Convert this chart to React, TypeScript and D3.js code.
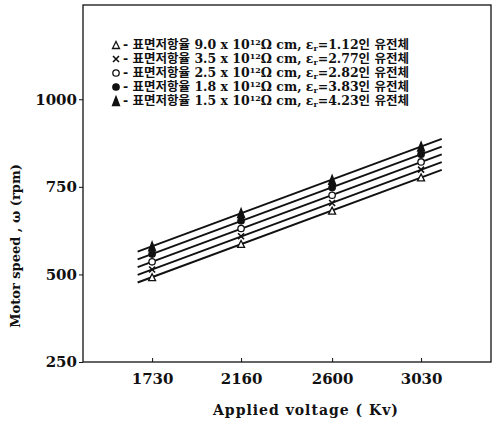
import React, { useEffect, useRef } from "react";
import * as d3 from "d3";

// applied voltage (Kv) at which the motor speed was measured
const voltages = [1730, 2160, 2600, 3030];
const yTicks = [250, 500, 750, 1000];

// motor speed (rpm), one array per dielectric
const speedTriOpen = [492, 587, 682, 777];
const speedCross = [514, 609, 704, 799];
const speedCircleOpen = [536, 631, 726, 821];
const speedDot = [558, 653, 748, 843];
const speedTriFilled = [580, 675, 770, 865];

const seriesNames = ["triOpen", "cross", "circleOpen", "dot", "triFilled"];
const resistivity = ["9.0", "3.5", "2.5", "1.8", "1.5"];
const permittivity = ["1.12", "2.77", "2.82", "3.83", "4.23"];

// fitted lines run a little past the first and last point
const fitRange = [1660, 3130];

const W = 496;
const H = 429;
const margin = { top: 5, right: 5, bottom: 67, left: 83 };
const font = "'DejaVu Serif', 'Noto Sans CJK KR', serif";

const drawMarker = (g, kind, cx, cy) => {
  if (kind === "triOpen" || kind === "triFilled") {
    const h = kind === "triFilled" ? 9 : 7;
    g.append("path")
      .attr("d", `M${cx},${cy - h / 2}L${cx + 3.5},${cy + h / 2}L${cx - 3.5},${cy + h / 2}Z`)
      .attr("fill", kind === "triFilled" ? "#111" : "#fff")
      .attr("stroke", "#111")
      .attr("stroke-width", 1.3);
  } else if (kind === "cross") {
    g.append("path")
      .attr("d", `M${cx - 3},${cy - 3}L${cx + 3},${cy + 3}M${cx + 3},${cy - 3}L${cx - 3},${cy + 3}`)
      .attr("stroke", "#111")
      .attr("stroke-width", 1.6);
  } else {
    g.append("circle")
      .attr("cx", cx)
      .attr("cy", cy)
      .attr("r", 3.2)
      .attr("fill", kind === "dot" ? "#111" : "#fff")
      .attr("stroke", "#111")
      .attr("stroke-width", 1.3);
  }
};

const App = () => {
  const ref = useRef(null);

  useEffect(() => {
    const svg = d3.select(ref.current);
    svg.selectAll("*").remove();

    const x = d3
      .scaleLinear()
      .domain([1396, 3368])
      .range([margin.left, W - margin.right]);
    const y = d3
      .scaleLinear()
      .domain([250, 1269])
      .range([H - margin.bottom, margin.top]);

    const series = [speedTriOpen, speedCross, speedCircleOpen, speedDot, speedTriFilled];

    // frame
    svg
      .append("rect")
      .attr("x", margin.left)
      .attr("y", margin.top)
      .attr("width", W - margin.left - margin.right)
      .attr("height", H - margin.top - margin.bottom)
      .attr("fill", "none")
      .attr("stroke", "#111")
      .attr("stroke-width", 1.3);

    // y axis
    const yAxis = svg
      .append("g")
      .attr("transform", `translate(${margin.left},0)`)
      .call(d3.axisLeft(y).tickValues(yTicks).tickFormat(d3.format("d")).tickSize(4).tickPadding(2));
    yAxis.select(".domain").remove();
    yAxis
      .selectAll("text")
      .attr("font-family", font)
      .attr("font-weight", "bold")
      .attr("font-size", 15)
      .attr("fill", "#111");
    yAxis.selectAll("line").attr("stroke", "#111");

    // x axis, ticks pointing inward
    const xAxis = svg
      .append("g")
      .attr("transform", `translate(0,${H - margin.bottom})`)
      .call(d3.axisBottom(x).tickValues(voltages).tickFormat(d3.format("d")).tickSize(-4).tickPadding(11));
    xAxis.select(".domain").remove();
    xAxis
      .selectAll("text")
      .attr("font-family", font)
      .attr("font-weight", "bold")
      .attr("font-size", 15)
      .attr("fill", "#111");
    xAxis.selectAll("line").attr("stroke", "#111");

    // fitted lines
    series.forEach((vals) => {
      const mx = d3.mean(voltages);
      const my = d3.mean(vals);
      const slope =
        d3.sum(voltages, (v, i) => (v - mx) * (vals[i] - my)) /
        d3.sum(voltages, (v) => (v - mx) * (v - mx));
      const pts = fitRange.map((v) => [v, my + slope * (v - mx)]);
      svg
        .append("path")
        .attr(
          "d",
          d3
            .line()
            .x((d) => x(d[0]))
            .y((d) => y(d[1]))(pts)
        )
        .attr("stroke", "#111")
        .attr("stroke-width", 1.9)
        .attr("fill", "none");
    });

    // markers
    const mg = svg.append("g");
    series.forEach((vals, si) => {
      vals.forEach((v, i) => drawMarker(mg, seriesNames[si], x(voltages[i]), y(v)));
    });

    // legend, top row is the open triangle
    seriesNames.forEach((name, row) => {
      const cy = 45 + row * 14;
      drawMarker(svg, name, 116, cy);
      const t = svg
        .append("text")
        .attr("x", 123)
        .attr("y", cy + 4)
        .attr("font-family", font)
        .attr("font-weight", "bold")
        .attr("font-size", 12.5)
        .attr("fill", "#111");
      t.append("tspan").text(`- 표면저항율 ${resistivity[row]} x 10`);
      t.append("tspan").attr("font-size", 8).attr("dy", -4).text("12");
      t.append("tspan").attr("dy", 4).text("Ω cm, ε");
      t.append("tspan").attr("font-size", 8).attr("dy", 2).text("r");
      t.append("tspan").attr("dy", -2).text(`=${permittivity[row]}인 유전체`);
    });

    // axis titles
    svg
      .append("text")
      .attr("transform", `translate(20,246) rotate(-90)`)
      .attr("text-anchor", "middle")
      .attr("font-family", font)
      .attr("font-weight", "bold")
      .attr("font-size", 13)
      .attr("fill", "#111")
      .text("Motor speed , ω (rpm)");

    svg
      .append("text")
      .attr("x", 306)
      .attr("y", 415)
      .attr("text-anchor", "middle")
      .attr("font-family", font)
      .attr("font-weight", "bold")
      .attr("font-size", 14)
      .attr("fill", "#111")
      .attr("letter-spacing", 1)
      .text("Applied voltage ( Kv)");
  }, []);

  return (
    <svg
      ref={ref}
      width={W}
      height={H}
      style={{ position: "absolute", left: 0, top: 0, background: "#fff" }}
    />
  );
};

export default App;
